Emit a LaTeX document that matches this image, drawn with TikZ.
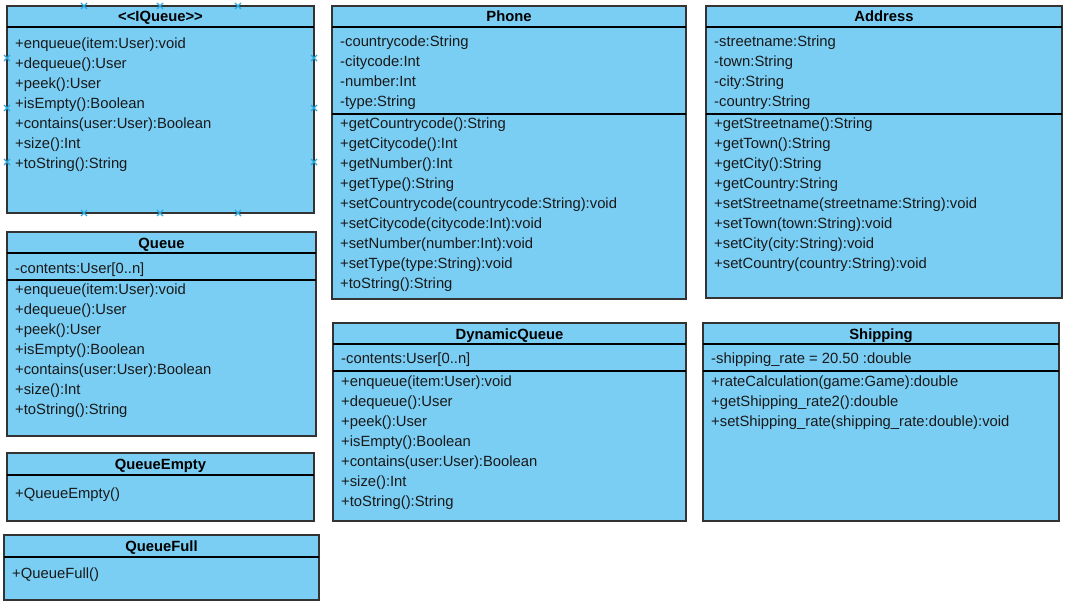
\documentclass[tikz,border=0pt]{standalone}
\usepackage{fontspec}
\setmainfont{Liberation Sans}
\definecolor{umlfill}{HTML}{7ACEF4}
\definecolor{umlstroke}{HTML}{333333}
\definecolor{handle}{HTML}{29ABE2}
\tikzset{
  classbox/.style={draw=umlstroke, fill=umlfill, line width=1.3pt, anchor=north west, inner sep=0pt, outer sep=0pt},
  sepline/.style={draw=black, line width=1.1pt},
  row/.style={anchor=base west, inner sep=0pt, font=\fontsize{14.8}{18}\selectfont, text=black!90},
  title/.style={anchor=base, inner sep=0pt, font=\fontsize{14.8}{18}\selectfont\bfseries, text=black},
  handlemark/.style={draw=handle, line width=1.1pt}
}
\begin{document}
\begin{tikzpicture}[x=1pt,y=-1pt]
\useasboundingbox (0,0) rectangle (1067,609);

% ---------- IQueue ----------
\node[classbox, minimum width=307pt, minimum height=207pt] (iqueue) at (7,6) {};
\draw[sepline] (7,27) -- (314,27);
\node[title] (iqueue-t) at (160.5,21.5) {<{}<IQueue>{}>};
\foreach \t [count=\i from 0] in {+enqueue(item:User):void,+dequeue():User,+peek():User,+isEmpty():Boolean,+contains(user:User):Boolean,+size():Int,+toString():String}
  \node[row] (iqueue-m\i) at (15,49+20*\i) {\t};
% connection handles
\foreach \hx in {84,160,238} {
  \draw[handlemark] (\hx-3,6-3) -- (\hx+3,6+3) (\hx-3,6+3) -- (\hx+3,6-3);
  \draw[handlemark] (\hx-3,213-3) -- (\hx+3,213+3) (\hx-3,213+3) -- (\hx+3,213-3);
}
\foreach \hy in {58,108,162} {
  \draw[handlemark] (7-3,\hy-3) -- (7+3,\hy+3) (7-3,\hy+3) -- (7+3,\hy-3);
  \draw[handlemark] (314-3,\hy-3) -- (314+3,\hy+3) (314-3,\hy+3) -- (314+3,\hy-3);
}

% ---------- Queue ----------
\node[classbox, minimum width=309pt, minimum height=204pt] (queue) at (7,232) {};
\draw[sepline] (7,253) -- (316,253);
\draw[sepline] (7,280) -- (316,280);
\node[title] (queue-t) at (161.5,248.5) {Queue};
\node[row] (queue-a0) at (15,273.5) {-contents:User[0..n]};
\foreach \t [count=\i from 0] in {+enqueue(item:User):void,+dequeue():User,+peek():User,+isEmpty():Boolean,+contains(user:User):Boolean,+size():Int,+toString():String}
  \node[row] (queue-m\i) at (15,294.5+20*\i) {\t};

% ---------- QueueEmpty ----------
\node[classbox, minimum width=307pt, minimum height=68pt] (qempty) at (7,453) {};
\draw[sepline] (7,475) -- (314,475);
\node[title] (qempty-t) at (160.5,469.5) {QueueEmpty};
\node[row] (qempty-m0) at (15,498.5) {+QueueEmpty()};

% ---------- QueueFull ----------
\node[classbox, minimum width=315pt, minimum height=65pt] (qfull) at (4,535) {};
\draw[sepline] (4,557) -- (319,557);
\node[title] (qfull-t) at (161.5,551.5) {QueueFull};
\node[row] (qfull-m0) at (12,578.5) {+QueueFull()};

% ---------- Phone ----------
\node[classbox, minimum width=354pt, minimum height=293pt] (phone) at (332,6) {};
\draw[sepline] (332,27) -- (686,27);
\draw[sepline] (332,114) -- (686,114);
\node[title] (phone-t) at (509,21.5) {Phone};
\foreach \t [count=\i from 0] in {-countrycode:String,-citycode:Int,-number:Int,-type:String}
  \node[row] (phone-a\i) at (340,46.5+20*\i) {\t};
\foreach \t [count=\i from 0] in {+getCountrycode():String,+getCitycode():Int,+getNumber():Int,+getType():String,+setCountrycode(countrycode:String):void,+setCitycode(citycode:Int):void,+setNumber(number:Int):void,+setType(type:String):void,+toString():String}
  \node[row] (phone-m\i) at (340,128.5+20*\i) {\t};

% ---------- Address ----------
\node[classbox, minimum width=356pt, minimum height=292pt] (address) at (706,6) {};
\draw[sepline] (706,27) -- (1062,27);
\draw[sepline] (706,114) -- (1062,114);
\node[title] (address-t) at (884,21.5) {Address};
\foreach \t [count=\i from 0] in {-streetname:String,-town:String,-city:String,-country:String}
  \node[row] (address-a\i) at (714,46.5+20*\i) {\t};
\foreach \t [count=\i from 0] in {+getStreetname():String,+getTown():String,+getCity():String,+getCountry:String,+setStreetname(streetname:String):void,+setTown(town:String):void,+setCity(city:String):void,+setCountry(country:String):void}
  \node[row] (address-m\i) at (714,128.5+20*\i) {\t};

% ---------- DynamicQueue ----------
\node[classbox, minimum width=353pt, minimum height=198pt] (dynq) at (333,323) {};
\draw[sepline] (333,344) -- (686,344);
\draw[sepline] (333,371) -- (686,371);
\node[title] (dynq-t) at (509.5,339.5) {DynamicQueue};
\node[row] (dynq-a0) at (341,363.5) {-contents:User[0..n]};
\foreach \t [count=\i from 0] in {+enqueue(item:User):void,+dequeue():User,+peek():User,+isEmpty():Boolean,+contains(user:User):Boolean,+size():Int,+toString():String}
  \node[row] (dynq-m\i) at (341,386.5+20*\i) {\t};

% ---------- Shipping ----------
\node[classbox, minimum width=356pt, minimum height=198pt] (ship) at (703,323) {};
\draw[sepline] (703,344) -- (1059,344);
\draw[sepline] (703,371) -- (1059,371);
\node[title] (ship-t) at (881,339.5) {Shipping};
\node[row] (ship-a0) at (711,363.5) {-shipping\_rate = 20.50 :double};
\node[row] (ship-m0) at (711,386.5) {+rateCalculation(game:Game):double};
\node[row] (ship-m1) at (711,406.5) {+getShipping\_rate2():double};
\node[row] (ship-m2) at (711,426.5) {+setShipping\_rate(shipping\_rate:double):void};
\end{tikzpicture}
\end{document}
